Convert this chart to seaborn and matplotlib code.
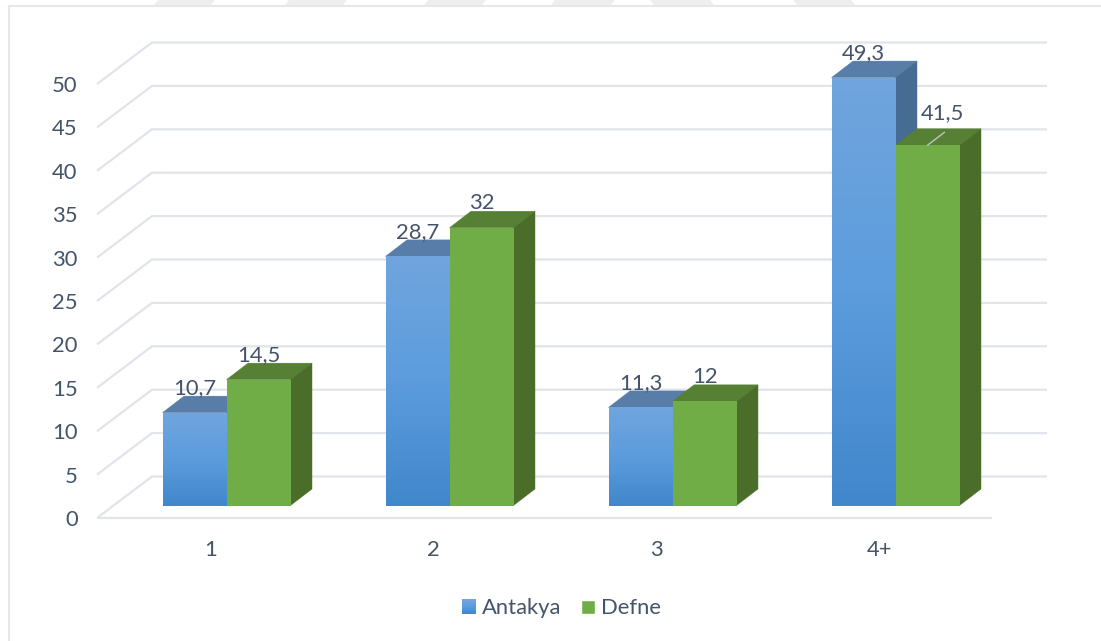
import numpy as np
import pandas as pd
import matplotlib
matplotlib.use("Agg")
import matplotlib.pyplot as plt
import seaborn as sns
from matplotlib.colors import LinearSegmentedColormap
from matplotlib.legend_handler import HandlerBase
from matplotlib.lines import Line2D
from matplotlib.patches import Patch, Polygon, Rectangle

# Household size categories and their percentages per district
categories = ["1", "2", "3", "4+"]
antakya = [10.7, 28.7, 11.3, 49.3]
defne = [14.5, 32, 12, 41.5]
y_ticks = [0, 5, 10, 15, 20, 25, 30, 35, 40, 45, 50]

W, H = 1101, 641
TEXT = "#44546A"
GRID = "#E1E4EB"
FRAME = "#E4E8EE"
FONT_SIZE = 15.8
BLUE_TOP, BLUE_SIDE = "#587DA8", "#466C94"
GREEN, GREEN_TOP, GREEN_SIDE = "#70AD47", "#568135", "#4A6D2A"
blue_grad = LinearSegmentedColormap.from_list(
    "blue_grad", ["#4187CB", "#5C9CDD", "#70A5DE"])

sns.set_theme(style="white")
plt.rcParams["font.family"] = ["Lato", "DejaVu Sans"]
plt.rcParams["font.size"] = FONT_SIZE

fig = plt.figure(figsize=(W / 100, H / 100), dpi=100, facecolor="white")

# Axes box in figure pixels; one category step is 223 px, one unit is 8.68 px
left, right, top, bottom = 97, 992, 42, 518
base_x, base_y = 226.5, 505.5
ax = fig.add_axes([left / W, 1 - bottom / H, (right - left) / W, (bottom - top) / H])
PX_X, PX_Y = 1 / 223, 1 / 8.68

df = pd.DataFrame({
    "size": categories * 2,
    "value": antakya + defne,
    "district": ["Antakya"] * 4 + ["Defne"] * 4,
})
sns.barplot(data=df, x="size", y="value", hue="district", ax=ax,
            palette=["#5B9BD5", GREEN], width=128 / 223, gap=0,
            saturation=1, legend=False, zorder=4, linewidth=0, edgecolor="none")

# Oblique offsets of the chart walls and of the bar depth
wall_dx, wall_dy = 55 * PX_X, 41.5 * PX_Y
floor = -(bottom - base_y) * PX_Y
bar_dx, bar_dy = 21.5 * PX_X, 16.5 * PX_Y
x_min, x_max = (left - base_x) * PX_X, (right - base_x) * PX_X

# Gridlines run along the side wall and then the back wall
for v in y_ticks:
    y0 = v + floor
    ax.plot([x_min, x_min + wall_dx, x_max + wall_dx],
            [y0, y0 + wall_dy, y0 + wall_dy],
            color=GRID, lw=1.6, zorder=1, clip_on=False,
            solid_joinstyle="miter", solid_capstyle="butt")
ax.plot([x_min, x_max], [floor, floor], color=GRID, lw=1.6, zorder=1,
        clip_on=False, solid_capstyle="butt")

# Extrude each bar and give the blue series its vertical gradient
for container, top_c, side_c, z in ((ax.containers[0], BLUE_TOP, BLUE_SIDE, 2),
                                    (ax.containers[1], GREEN_TOP, GREEN_SIDE, 3)):
    for rect in container:
        x0, w, h = rect.get_x(), rect.get_width(), rect.get_height()
        x1 = x0 + w
        ax.add_patch(Polygon(
            [(x0, h), (x0 + bar_dx, h + bar_dy), (x1 + bar_dx, h + bar_dy), (x1, h)],
            facecolor=top_c, edgecolor=top_c, lw=0.3, zorder=z, clip_on=False))
        ax.add_patch(Polygon(
            [(x1, 0), (x1 + bar_dx, bar_dy), (x1 + bar_dx, h + bar_dy), (x1, h)],
            facecolor=side_c, edgecolor=side_c, lw=0.3, zorder=z, clip_on=False))

for rect in ax.containers[0]:
    x0, w, h = rect.get_x(), rect.get_width(), rect.get_height()
    im = ax.imshow(np.linspace(0, 1, 128).reshape(-1, 1), cmap=blue_grad,
                   extent=(x0, x0 + w, 0, h), origin="lower", aspect="auto",
                   zorder=3.5, interpolation="bilinear")
    im.set_clip_path(rect)
    rect.set_visible(False)
for rect in ax.containers[1]:
    rect.set_zorder(5)

ax.set_xlim(x_min, x_max)
ax.set_ylim(floor, (base_y - top) * PX_Y)

# Value labels sit above the front edge of each bar
offsets = {41.5: (11, 23.5)}
for container, values in zip(ax.containers, (antakya, defne)):
    for rect, v in zip(container, values):
        cx = rect.get_x() + rect.get_width() / 2
        dx, dy = offsets.get(v, (0, 17.5))
        ax.annotate(f"{v}".replace(".", ","), (cx, v), xytext=(dx, dy),
                    textcoords="offset points", ha="center", va="center",
                    color=TEXT, fontsize=FONT_SIZE, zorder=7, annotation_clip=False)
        if v in offsets:
            ax.annotate("", (cx, v), xytext=(cx + 17 * PX_X, v + 13 * PX_Y),
                        arrowprops=dict(arrowstyle="-", color="#BFC3C8", lw=1,
                                        shrinkA=0, shrinkB=0), zorder=7)

# Axis labels line up with the front edge of the floor
ax.set_xticks(np.arange(len(categories)) - 16 * PX_X, categories)
ax.set_yticks(np.array(y_ticks) + floor, [str(v) for v in y_ticks])
ax.tick_params(axis="both", length=0, colors=TEXT, labelsize=FONT_SIZE)
ax.tick_params(axis="x", pad=15.5)
ax.tick_params(axis="y", pad=14)
ax.set_xlabel("")
ax.set_ylabel("")
sns.despine(ax=ax, left=True, bottom=True)
ax.patch.set_alpha(0)


class GradientSwatch(HandlerBase):
    """Legend key built from thin strips, light at the top and dark at the bottom."""

    def create_artists(self, legend, orig_handle, xdescent, ydescent, width,
                       height, fontsize, trans):
        n = 10
        strips = []
        for i in range(n):
            strips.append(Rectangle((-xdescent, -ydescent + height * i / n),
                                    width, height / n + 0.2,
                                    facecolor=blue_grad(i / (n - 1)),
                                    edgecolor="none", transform=trans))
        return strips


handles = [Patch(label="Antakya"), Patch(facecolor=GREEN, label="Defne")]
ax.legend(handles=handles, handler_map={handles[0]: GradientSwatch()},
          loc="center", bbox_to_anchor=(561.5 / W, 1 - 608.5 / H),
          bbox_transform=fig.transFigure, ncol=2, frameon=False, fontsize=FONT_SIZE,
          labelcolor=TEXT, handlelength=0.64, handleheight=0.64,
          handletextpad=0.27, columnspacing=0.9, borderpad=0, borderaxespad=0)

# Page frame and the faint stripes along the top edge
fig.add_artist(Line2D([8.5 / W, 8.5 / W, 1], [0, 1 - 6 / H, 1 - 6 / H],
                      color=FRAME, lw=1.5, transform=fig.transFigure, zorder=0,
                      solid_joinstyle="miter"))
stripes = [(154, 211, 1), (285, 343, 1), (424, 482, 1), (551, 611, 1),
           (654, 714, -1), (797, 855, -1)]
for a, b, lean in stripes:
    pts = [(a, 5), (a + 4 * lean, 0), (b + 4 * lean, 0), (b, 5)]
    fig.add_artist(Polygon([(x / W, 1 - y / H) for x, y in pts], closed=True,
                           facecolor="#EEEEEE", edgecolor="none",
                           transform=fig.transFigure, zorder=0))

fig.savefig("out.png", dpi=100, facecolor="white")
